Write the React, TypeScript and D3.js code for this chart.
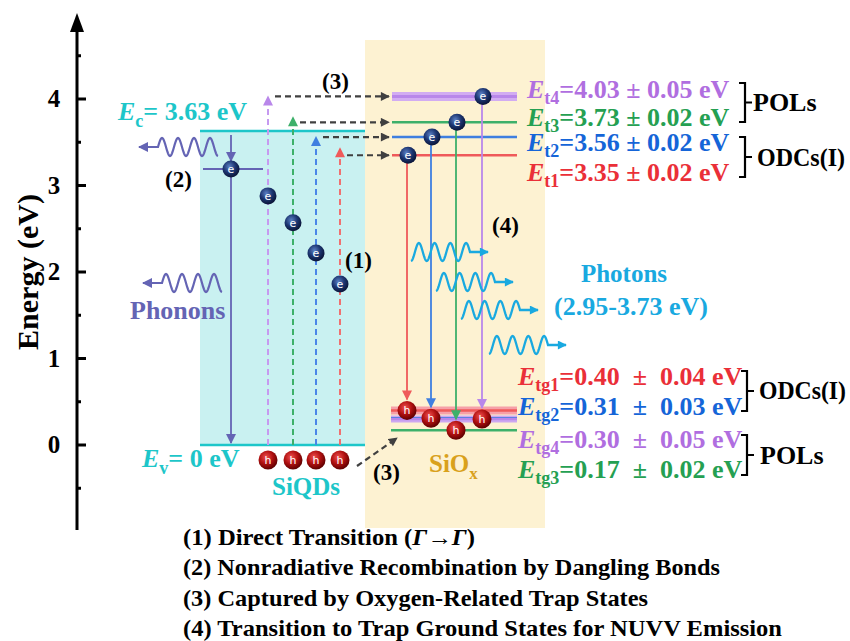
import React from "react";
import * as d3 from "d3";

// ---------- data ----------
const MAJOR_TICKS = [0, 1, 2, 3, 4];
const MINOR_TICKS = [-0.5, 0.5, 1.5, 2.5, 3.5, 4.5];
const EC = 3.63;
const EV = 0;
const DANGLING_E = 3.19;
// index order: 0 = t1 (red), 1 = t2 (blue), 2 = t3 (green), 3 = t4 (purple)
const TRAP_NAMES = ["t1", "t2", "t3", "t4"];
const TRAP_E = [3.35, 3.56, 3.73, 4.03];
const TRAP_ERR = [0.02, 0.02, 0.02, 0.05];
const GROUND_NAMES = ["tg1", "tg2", "tg3", "tg4"];
const GROUND_E = [0.4, 0.31, 0.17, 0.3];
const GROUND_ERR = [0.04, 0.03, 0.02, 0.05];
const QD_ELECTRON_E = [1.86, 2.22, 2.57, 2.88];
const EXCITE_TOP_E = [3.43, 3.56, 3.79, 4.03];
const LEGEND_LINES = [
  "(1) Direct Transition (",
  "(2) Nonradiative Recombination by Dangling Bonds",
  "(3) Captured by Oxygen-Related Trap States",
  "(4) Transition to Trap Ground States for NUVV Emission",
];
const LEGEND_WIDTHS = [292, 537, 465, 599];

// ---------- styles ----------
const LINE_COL = ["#ef5a5a", "#3f7fe0", "#3db06a", "#b987ea"];
const TEXT_COL = ["#ea2f38", "#1565d8", "#25a052", "#b06ee0"];
const CYAN = "#1dc6c9";
const PHONON = "#6464b4";
const PHOTON = "#19a9e0";
const FONT = "'Liberation Serif','Times New Roman',serif";

const y = d3.scaleLinear().domain([0, 4]).range([445, 99]);
const xQD = [340, 316, 293, 268];
const xOx = [407, 431, 456, 482];

const lineGen = d3.line<[number, number]>();

function wave(x0: number, len: number, yc: number, amp: number, periods: number, tail: number) {
  const pts: [number, number][] = [];
  const n = 120;
  const dir = Math.sign(len);
  for (let i = 0; i <= n; i++) {
    const t = (i / n) * periods;
    pts.push([x0 + (len * i) / n, yc + amp * Math.cos(2 * Math.PI * t)]);
  }
  pts.push([x0 + len + dir * 2, yc]);
  pts.push([x0 + len + tail, yc]);
  return lineGen(pts) as string;
}

function Ball({ cx, cy, kind }: { cx: number; cy: number; kind: "e" | "h" }) {
  return (
    <g>
      <circle cx={cx} cy={cy} r={kind === "e" ? 8.5 : 9.5} fill={`url(#grad-${kind})`} />
      <text
        x={cx}
        y={cy + 4}
        textAnchor="middle"
        fontSize={11}
        fontFamily="'DejaVu Sans',sans-serif"
        fill="#fff"
      >
        {kind}
      </text>
    </g>
  );
}

function Label({ x, yb, name, value, err, color, wide }: any) {
  const sp = wide ? "\u00A0 " : " ";
  return (
    <text x={x} y={yb} fontFamily={FONT} fontWeight="bold" fontSize={26} fill={color}>
      <tspan fontStyle="italic">E</tspan>
      <tspan dy={6} fontSize={18}>{name}</tspan>
      <tspan dy={-6}>{`=${value.toFixed(2)}${sp}±${sp}${err.toFixed(2)} eV`}</tspan>
    </text>
  );
}

function Brace({ x, y0, y1 }: { x: number; y0: number; y1: number }) {
  const m = (y0 + y1) / 2;
  return (
    <path
      d={`M${x - 6},${y0} H${x} V${y1} H${x - 6} M${x},${m} H${x + 7}`}
      fill="none"
      stroke="#000"
      strokeWidth={2.2}
    />
  );
}

export default function App() {
  const markerColors: Record<string, string> = {
    r: LINE_COL[0],
    b: LINE_COL[1],
    g: LINE_COL[2],
    p: LINE_COL[3],
    k: "#404040",
    ph: PHONON,
    pt: PHOTON,
  };
  const mk = ["r", "b", "g", "p"];
  const dashedCols = ["#f07070", "#4a86e8", "#3db06a", "#c69af0"];

  return (
    <svg
      width={850}
      height={641}
      style={{ position: "absolute", left: 0, top: 0, background: "#fff" }}
    >
      <defs>
        <radialGradient id="grad-e" cx="40%" cy="35%" r="65%">
          <stop offset="0%" stopColor="#5a7fc4" />
          <stop offset="55%" stopColor="#1c3570" />
          <stop offset="100%" stopColor="#0a1538" />
        </radialGradient>
        <radialGradient id="grad-h" cx="40%" cy="35%" r="65%">
          <stop offset="0%" stopColor="#f05050" />
          <stop offset="55%" stopColor="#b01010" />
          <stop offset="100%" stopColor="#600000" />
        </radialGradient>
        {Object.entries(markerColors).map(([k, c]) => (
          <marker
            key={k}
            id={`arr-${k}`}
            viewBox="0 0 10 10"
            refX={9}
            refY={5}
            markerWidth={k === "k" || k === "pt" ? 10 : 13}
            markerHeight={k === "k" || k === "pt" ? 9 : 10}
            markerUnits="userSpaceOnUse"
            orient="auto"
          >
            <path d="M0,0 L10,5 L0,10 z" fill={c} />
          </marker>
        ))}
      </defs>

      {/* background boxes */}
      <rect x={365} y={40} width={180} height={488} fill="#fdf2d2" />
      <rect x={200} y={y(EC)} width={165} height={y(EV) - y(EC)} fill="#c9f1f1" />
      <line x1={200} x2={365} y1={y(EC)} y2={y(EC)} stroke={CYAN} strokeWidth={2.5} />
      <line x1={200} x2={365} y1={y(EV)} y2={y(EV)} stroke={CYAN} strokeWidth={2.5} />

      {/* energy axis */}
      <line x1={77} x2={77} y1={530} y2={30} stroke="#000" strokeWidth={3} />
      <path d="M70,32 L77,13 L84,32 z" fill="#000" />
      {MAJOR_TICKS.map((t) => (
        <g key={t}>
          <line x1={76} x2={86} y1={y(t)} y2={y(t)} stroke="#000" strokeWidth={3} />
          <text
            x={54}
            y={y(t) + 8}
            textAnchor="middle"
            fontFamily={FONT}
            fontWeight="bold"
            fontSize={25}
          >
            {t}
          </text>
        </g>
      ))}
      {MINOR_TICKS.map((t) => (
        <line key={t} x1={76} x2={81} y1={y(t)} y2={y(t)} stroke="#000" strokeWidth={3} />
      ))}
      <text
        transform={`translate(38,${272}) rotate(-90)`}
        textAnchor="middle"
        fontFamily={FONT}
        fontWeight="bold"
        fontSize={30}
      >
        Energy (eV)
      </text>

      {/* Ec / Ev labels */}
      <text x={118} y={120} fontFamily={FONT} fontWeight="bold" fontSize={26} fill={CYAN}>
        <tspan fontStyle="italic">E</tspan>
        <tspan dy={7} fontSize={18}>c</tspan>
        <tspan dy={-7}>= 3.63 eV</tspan>
      </text>
      <text x={142} y={467} fontFamily={FONT} fontWeight="bold" fontSize={26} fill={CYAN}>
        <tspan fontStyle="italic">E</tspan>
        <tspan dy={7} fontSize={18}>v</tspan>
        <tspan dy={-7}>= 0 eV</tspan>
      </text>
      <text x={272} y={495} fontFamily={FONT} fontWeight="bold" fontSize={25} fill={CYAN}>
        SiQDs
      </text>

      {/* dangling bond level and nonradiative path */}
      <line x1={203} x2={263} y1={y(DANGLING_E)} y2={y(DANGLING_E)} stroke={PHONON} strokeWidth={2} />
      <line
        x1={231}
        x2={231}
        y1={y(EC) + 4}
        y2={y(DANGLING_E) - 8}
        stroke={PHONON}
        strokeWidth={1.8}
        markerEnd="url(#arr-ph)"
      />
      <line
        x1={231}
        x2={231}
        y1={y(DANGLING_E)}
        y2={y(EV) - 2}
        stroke={PHONON}
        strokeWidth={1.8}
        markerEnd="url(#arr-ph)"
      />
      <Ball cx={231} cy={y(DANGLING_E)} kind="e" />
      <text x={165} y={187} fontFamily={FONT} fontWeight="bold" fontSize={23}>
        (2)
      </text>

      {/* phonons */}
      <path d={wave(218, -60, 147, 9, 3.75, -19)} fill="none" stroke={PHONON} strokeWidth={2.2} markerEnd="url(#arr-ph)" />
      <path d={wave(222, -60, 283, 9, 3.75, -19)} fill="none" stroke={PHONON} strokeWidth={2.2} markerEnd="url(#arr-ph)" />
      <text x={130} y={319} fontFamily={FONT} fontWeight="bold" fontSize={26} fill={PHONON}>
        Phonons
      </text>

      {/* (1) direct transitions, dashed */}
      {xQD.map((x, i) => (
        <g key={i}>
          <line
            x1={x}
            x2={x}
            y1={y(EV)}
            y2={y(EXCITE_TOP_E[i])}
            stroke={dashedCols[i]}
            strokeWidth={2}
            strokeDasharray="6,4"
            markerEnd={`url(#arr-${mk[i]})`}
          />
          <Ball cx={x} cy={y(QD_ELECTRON_E[i])} kind="e" />
          <Ball cx={x} cy={460} kind="h" />
        </g>
      ))}
      <text x={345} y={268} fontFamily={FONT} fontWeight="bold" fontSize={23}>
        (1)
      </text>

      {/* (3) capture, dashed horizontal arrows */}
      {xQD.map((x, i) => (
        <line
          key={i}
          x1={x + 7}
          x2={389}
          y1={y(TRAP_E[i])}
          y2={y(TRAP_E[i])}
          stroke="#404040"
          strokeWidth={2.2}
          strokeDasharray="6,4"
          markerEnd="url(#arr-k)"
        />
      ))}
      <text x={322} y={89} fontFamily={FONT} fontWeight="bold" fontSize={23}>
        (3)
      </text>
      <line
        x1={357}
        y1={466}
        x2={397}
        y2={438}
        stroke="#404040"
        strokeWidth={2.2}
        strokeDasharray="6,4"
        markerEnd="url(#arr-k)"
      />
      <text x={373} y={480} fontFamily={FONT} fontWeight="bold" fontSize={23}>
        (3)
      </text>

      {/* SiOx trap levels */}
      <line x1={392} x2={517} y1={y(TRAP_E[3])} y2={y(TRAP_E[3])} stroke="#d2acf2" strokeWidth={9} />
      {TRAP_E.map((e, i) => (
        <line
          key={i}
          x1={392}
          x2={517}
          y1={y(e)}
          y2={y(e)}
          stroke={LINE_COL[i]}
          strokeWidth={i === 3 ? 3 : 2.5}
        />
      ))}
      {/* ground levels */}
      <line x1={391} x2={517} y1={y(GROUND_E[0])} y2={y(GROUND_E[0])} stroke="#f6a0a8" strokeWidth={8} />
      <line x1={391} x2={517} y1={y(GROUND_E[3])} y2={y(GROUND_E[3])} stroke="#cda8f0" strokeWidth={7} />
      {GROUND_E.map((e, i) => (
        <line
          key={i}
          x1={391}
          x2={517}
          y1={y(e)}
          y2={y(e)}
          stroke={LINE_COL[i]}
          strokeWidth={2.5}
        />
      ))}
      {/* (4) transitions */}
      {xOx.map((x, i) => (
        <line
          key={i}
          x1={x}
          x2={x}
          y1={y(TRAP_E[i])}
          y2={y(GROUND_E[i]) - 11}
          stroke={LINE_COL[i]}
          strokeWidth={1.8}
          markerEnd={`url(#arr-${mk[i]})`}
        />
      ))}
      {xOx.map((x, i) => (
        <g key={i}>
          <Ball cx={x + 1} cy={y(TRAP_E[i])} kind="e" />
          <Ball cx={x} cy={y(GROUND_E[i])} kind="h" />
        </g>
      ))}
      <text x={492} y={233} fontFamily={FONT} fontWeight="bold" fontSize={23}>
        (4)
      </text>
      <text x={429} y={472} fontFamily={FONT} fontWeight="bold" fontSize={25} fill="#d9a11c">
        SiO<tspan dy={7} fontSize={17}>x</tspan>
      </text>

      {/* photons */}
      {[
        [411, 252],
        [436, 282],
        [461, 310],
        [489, 345],
      ].map(([x, yy], i) => (
        <path
          key={i}
          d={wave(x, 59, yy, 9, 3.75, 18)}
          fill="none"
          stroke={PHOTON}
          strokeWidth={2.3}
          markerEnd="url(#arr-pt)"
        />
      ))}
      <text x={624} y={282} textAnchor="middle" fontFamily={FONT} fontWeight="bold" fontSize={25} fill={PHOTON}>
        Photons
      </text>
      <text x={631} y={315} textAnchor="middle" fontFamily={FONT} fontWeight="bold" fontSize={26} fill={PHOTON}>
        (2.95-3.73 eV)
      </text>

      {/* right labels - excited traps */}
      <Label x={527} yb={98} name={TRAP_NAMES[3]} value={TRAP_E[3]} err={TRAP_ERR[3]} color={TEXT_COL[3]} />
      <Label x={527} yb={126} name={TRAP_NAMES[2]} value={TRAP_E[2]} err={TRAP_ERR[2]} color={TEXT_COL[2]} />
      <Label x={527} yb={151} name={TRAP_NAMES[1]} value={TRAP_E[1]} err={TRAP_ERR[1]} color={TEXT_COL[1]} />
      <Label x={527} yb={181} name={TRAP_NAMES[0]} value={TRAP_E[0]} err={TRAP_ERR[0]} color={TEXT_COL[0]} />
      <Brace x={745} y0={83} y1={122} />
      <text x={753} y={111} fontFamily={FONT} fontWeight="bold" fontSize={26}>POLs</text>
      <Brace x={745} y0={137} y1={177} />
      <text x={757} y={166} fontFamily={FONT} fontWeight="bold" fontSize={25} textLength={88} lengthAdjust="spacingAndGlyphs">
        ODCs(I)
      </text>

      {/* right labels - ground states */}
      <Label wide x={518} yb={385} name={GROUND_NAMES[0]} value={GROUND_E[0]} err={GROUND_ERR[0]} color={TEXT_COL[0]} />
      <Label wide x={518} yb={415} name={GROUND_NAMES[1]} value={GROUND_E[1]} err={GROUND_ERR[1]} color={TEXT_COL[1]} />
      <Label wide x={518} yb={448} name={GROUND_NAMES[3]} value={GROUND_E[3]} err={GROUND_ERR[3]} color={TEXT_COL[3]} />
      <Label wide x={518} yb={478} name={GROUND_NAMES[2]} value={GROUND_E[2]} err={GROUND_ERR[2]} color={TEXT_COL[2]} />
      <Brace x={747} y0={371} y1={411} />
      <text x={759} y={399} fontFamily={FONT} fontWeight="bold" fontSize={25} textLength={87} lengthAdjust="spacingAndGlyphs">
        ODCs(I)
      </text>
      <Brace x={747} y0={435} y1={475} />
      <text x={760} y={464} fontFamily={FONT} fontWeight="bold" fontSize={26}>POLs</text>

      {/* legend */}
      {LEGEND_LINES.map((s, i) => (
        <text
          key={i}
          x={183}
          y={545 + i * 30.3}
          fontFamily={FONT}
          fontWeight="bold"
          fontSize={23}
          textLength={LEGEND_WIDTHS[i]}
          lengthAdjust="spacingAndGlyphs"
        >
          {s}
          {i === 0 && (
            <>
              <tspan fontStyle="italic">Γ</tspan>→<tspan fontStyle="italic">Γ</tspan>)
            </>
          )}
        </text>
      ))}
    </svg>
  );
}
